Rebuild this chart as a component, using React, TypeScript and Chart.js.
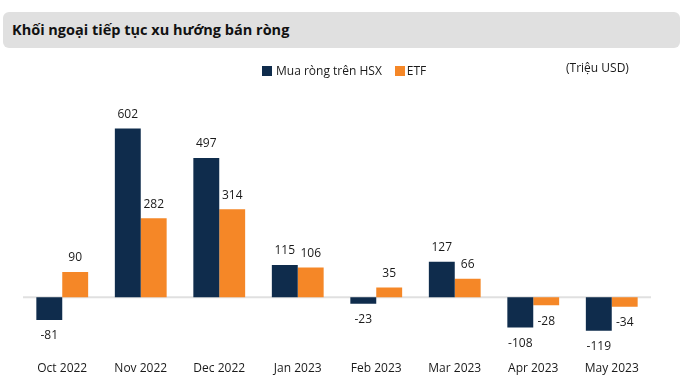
import React, { useEffect, useRef } from "react";
import { Chart, registerables } from "chart.js";

Chart.register(...registerables);

const categories = ["Oct 2022", "Nov 2022", "Dec 2022", "Jan 2023", "Feb 2023", "Mar 2023", "Apr 2023", "May 2023"];
const hsxValues = [-81, 602, 497, 115, -23, 127, -108, -119];
const etfValues = [90, 282, 314, 106, 35, 66, -28, -34];
const seriesNames = ["Mua ròng trên HSX", "ETF"];
const title = "Khối ngoại tiếp tục xu hướng bán ròng";
const unitLabel = "(Triệu USD)";

const NAVY = "#0f2c4c";
const ORANGE = "#f58727";
const FONT = "'Open Sans', 'Noto Sans', sans-serif";

const zeroLinePlugin = {
  id: "zeroLine",
  beforeDatasetsDraw(chart: any) {
    const { ctx, chartArea, scales } = chart;
    const y = scales.y.getPixelForValue(0);
    ctx.save();
    ctx.strokeStyle = "#e0e0e0";
    ctx.lineWidth = 2;
    ctx.beginPath();
    ctx.moveTo(chartArea.left, y);
    ctx.lineTo(chartArea.right, y);
    ctx.stroke();
    ctx.restore();
  },
};

const valueLabelPlugin = {
  id: "valueLabels",
  afterDatasetsDraw(chart: any) {
    const { ctx } = chart;
    ctx.save();
    ctx.font = `12px ${FONT}`;
    ctx.fillStyle = "#1a1a1a";
    ctx.textAlign = "center";
    ctx.textBaseline = "middle";
    chart.data.datasets.forEach((ds: any, di: number) => {
      const meta = chart.getDatasetMeta(di);
      meta.data.forEach((bar: any, i: number) => {
        const v = ds.data[i];
        const y = v >= 0 ? bar.y - 14 : bar.y + 16;
        ctx.fillText(String(v), bar.x, y);
      });
    });
    ctx.restore();
  },
};

export default function App() {
  const ref = useRef<HTMLCanvasElement | null>(null);
  useEffect(() => {
    if (!ref.current) return;
    const chart = new Chart(ref.current, {
      type: "bar",
      data: {
        labels: categories,
        datasets: [
          { label: seriesNames[0], data: hsxValues, backgroundColor: NAVY, borderWidth: 0, categoryPercentage: 0.66, barPercentage: 1 },
          { label: seriesNames[1], data: etfValues, backgroundColor: ORANGE, borderWidth: 0, categoryPercentage: 0.66, barPercentage: 1 },
        ],
      },
      options: {
        animation: false,
        responsive: false,
        maintainAspectRatio: false,
        layout: { padding: { left: 23, right: 36, top: 115, bottom: 0 } },
        plugins: { legend: { display: false }, tooltip: { enabled: false }, title: { display: false } },
        scales: {
          x: {
            grid: { display: false, drawTicks: false },
            border: { display: false },
            ticks: { color: "#1a1a1a", font: { family: FONT, size: 12 }, padding: 13, maxRotation: 0 },
          },
          y: { display: false, min: -183, max: 650 },
        },
      },
      plugins: [zeroLinePlugin, valueLabelPlugin],
    });
    return () => chart.destroy();
  }, []);

  const textStyle: React.CSSProperties = { position: "absolute", fontFamily: FONT, fontSize: 12, color: "#1a1a1a", whiteSpace: "nowrap", lineHeight: "16px" };
  const sw = (c: string): React.CSSProperties => ({ display: "inline-block", width: 10, height: 10, background: c, marginRight: 4, verticalAlign: "-1px" });

  return (
    <div style={{ position: "fixed", left: 0, top: 0, width: 687, height: 389, background: "#fff", overflow: "hidden" }}>
      <canvas ref={ref} width={687} height={389} style={{ position: "absolute", left: 0, top: 0, width: 687, height: 389 }} />
      <div style={{ position: "absolute", left: 3, top: 12, width: 677, height: 36, background: "#e0e0e0", borderRadius: 6 }} />
      <div style={{ ...textStyle, left: 12, top: 20, fontSize: 14.5, fontWeight: 700, lineHeight: "20px", color: "#111" }}>{title}</div>
      <div style={{ ...textStyle, left: 262, top: 63 }}>
        <span style={sw(NAVY)} />
        {seriesNames[0]}
        <span style={{ ...sw(ORANGE), marginLeft: 13, marginRight: 2 }} />
        {seriesNames[1]}
      </div>
      <div style={{ ...textStyle, left: 566, top: 60 }}>{unitLabel}</div>
    </div>
  );
}
